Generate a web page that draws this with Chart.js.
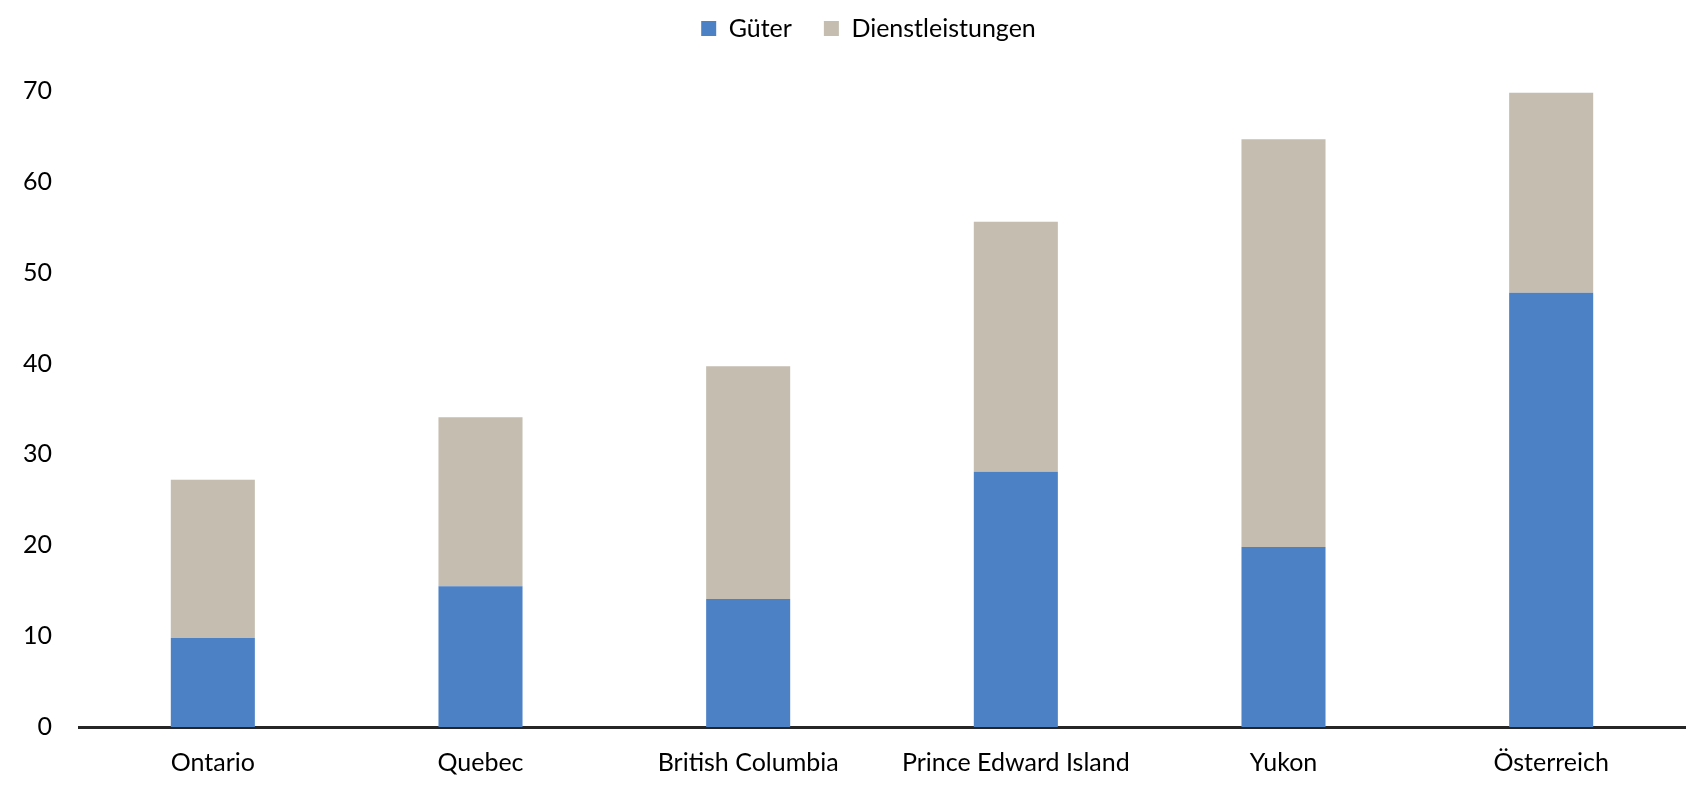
<!DOCTYPE html>
<html>
<head>
<meta charset="utf-8">
<script src="https://cdn.jsdelivr.net/npm/chart.js@4"></script>
<style>
  html, body { margin: 0; padding: 0; background: #fff; }
  #wrap { width: 1693px; height: 790px; }
</style>
</head>
<body>
<div id="wrap"><canvas id="chart"></canvas></div>
<script>
// values
const categories = ["Ontario", "Quebec", "British Columbia", "Prince Edward Island", "Yukon", "Österreich"];
const gueter = [9.8, 15.5, 14.1, 28.1, 19.8, 47.8];
const dienstleistungen = [17.4, 18.6, 25.6, 27.5, 44.9, 22.0];

const FONT = { family: "Lato", size: 25 };

// fixed legend height so the plot top lands where the original has it,
// and nudge the legend a bit right like in the original
const legendSpace = {
  id: "legendSpace",
  beforeInit(chart) {
    const origFit = chart.legend.fit;
    chart.legend.fit = function fit() {
      origFit.bind(chart.legend)();
      this.height = 107;
    };
  },
  afterLayout(chart) {
    chart.legend.left += 52;
  },
};

new Chart(document.getElementById("chart"), {
  type: "bar",
  data: {
    labels: categories,
    datasets: [
      { label: "Güter", data: gueter, backgroundColor: "#4d81c6" },
      { label: "Dienstleistungen", data: dienstleistungen, backgroundColor: "#c4bdb0" },
    ],
  },
  options: {
    responsive: true,
    maintainAspectRatio: false,
    animation: false,
    layout: { padding: { left: 0, right: 8, top: -16, bottom: 0 } },
    datasets: { bar: { categoryPercentage: 1, barPercentage: 0.314, borderWidth: 0 } },
    scales: {
      x: {
        stacked: true,
        grid: { display: false, drawTicks: false },
        border: { display: true, color: "#262626", width: 3 },
        ticks: { color: "#000", font: FONT, padding: 21, maxRotation: 0 },
        afterFit(scale) { scale.height = 63; },
      },
      y: {
        stacked: true,
        min: 0,
        max: 70,
        grid: { display: false, drawTicks: false },
        border: { display: false },
        ticks: { stepSize: 10, color: "#000", font: FONT, padding: 27 },
        afterFit(scale) { scale.width = 79; },
      },
    },
    plugins: {
      legend: {
        position: "top",
        labels: { boxWidth: 15, boxHeight: 15, padding: 32, color: "#000", font: FONT },
      },
      tooltip: { enabled: false },
    },
  },
  plugins: [legendSpace],
});
</script>
</body>
</html>
